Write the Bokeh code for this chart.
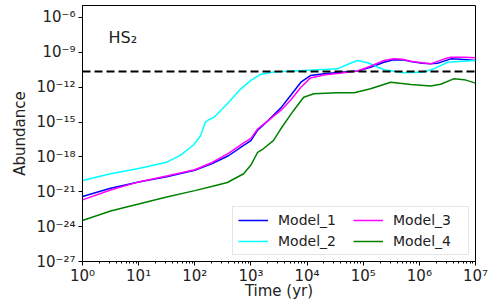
import numpy as np
from bokeh.plotting import figure
from bokeh.models import (FixedTicker, CustomJSTickFormatter, Span, Label, Legend, LegendItem)
from bokeh.embed import file_html
from bokeh.resources import INLINE

# ---- data (log10 of time in yr, log10 of abundance) ----
m1_logt = [0, 0.5, 1.0, 1.5, 2.0, 2.3, 2.6, 2.87, 3.0, 3.12, 3.3, 3.53, 3.71, 3.89, 4.06, 4.3, 4.65,
           4.9, 5.13, 5.37, 5.54, 5.7, 5.85, 6.05, 6.2, 6.32, 6.56, 6.8, 7.0]
m1_logx = [-21.4, -20.7, -20.15, -19.7, -19.15, -18.6, -17.9, -17.0, -16.6, -15.7, -14.9, -13.8, -12.7,
           -11.57, -11.0, -10.85, -10.7, -10.6, -10.28, -9.85, -9.64, -9.65, -9.79, -9.95, -9.99, -9.95,
           -9.56, -9.62, -9.7]

m2_logt = [0, 0.5, 1.0, 1.5, 1.75, 1.98, 2.10, 2.19, 2.25, 2.34, 2.58, 2.82, 3.0, 3.17, 3.4, 3.94, 4.54,
           4.72, 4.9, 5.08, 5.37, 5.72, 6.08, 6.26, 6.5, 7.0]
m2_logx = [-20.03, -19.45, -19.0, -18.45, -17.85, -16.95, -16.2, -15.0, -14.8, -14.6, -13.43, -12.14,
           -11.42, -10.9, -10.7, -10.56, -10.42, -10.05, -9.7, -9.9, -10.5, -10.76, -10.7, -10.42,
           -9.85, -9.7]

m3_logt = [0, 0.5, 1.0, 1.5, 2.0, 2.3, 2.6, 2.87, 3.0, 3.12, 3.3, 3.53, 3.71, 3.89, 4.06, 4.3, 4.65,
           4.9, 5.13, 5.37, 5.54, 5.7, 5.85, 6.05, 6.2, 6.45, 6.56, 6.8, 7.0]
m3_logx = [-21.7, -20.85, -20.15, -19.65, -19.1, -18.5, -17.7, -16.8, -16.4, -15.6, -14.9, -14.0, -13.1,
           -12.0, -11.2, -10.95, -10.75, -10.6, -10.2, -9.7, -9.56, -9.6, -9.76, -9.9, -9.99, -9.56,
           -9.42, -9.42, -9.47]

m4_logt = [0, 0.5, 1.0, 1.5, 2.0, 2.3, 2.58, 2.87, 3.0, 3.12, 3.22, 3.4, 3.53, 3.76, 3.94, 4.12, 4.54,
           4.84, 5.13, 5.49, 5.85, 6.2, 6.38, 6.61, 6.8, 7.0]
m4_logx = [-23.47, -22.65, -22.05, -21.45, -20.9, -20.55, -20.2, -19.45, -18.7, -17.6, -17.3, -16.6,
           -15.6, -14.0, -12.86, -12.57, -12.48, -12.48, -12.14, -11.57, -11.77, -11.9, -11.75, -11.28,
           -11.35, -11.65]

observed_abundance = 2.2e-11
species_label = "HS\u2082"
series_names = ["Model_1", "Model_2", "Model_3", "Model_4"]
series_colors = ["#0000ff", "#00ffff", "#ff00ff", "#008000"]
x_tick_exponents = [0, 1, 2, 3, 4, 5, 6, 7]
y_tick_exponents = [-27, -24, -21, -18, -15, -12, -9, -6]

FONT = "DejaVu Sans"

p = figure(width=497, height=305, x_axis_type="log", y_axis_type="log",
           x_range=(1, 1e7), y_range=(1e-27, 10 ** -4.97),
           output_backend="svg", toolbar_location=None,
           min_border_left=82, min_border_right=22, min_border_top=5, min_border_bottom=44)

p.xgrid.visible = False
p.ygrid.visible = False
p.outline_line_color = "black"
p.outline_line_width = 1
p.background_fill_color = "white"
p.border_fill_color = "white"

xt = [10.0 ** e for e in x_tick_exponents]
xminor = [m * 10.0 ** e for e in x_tick_exponents[:-1] for m in range(2, 10)]
p.xaxis.ticker = FixedTicker(ticks=xt, minor_ticks=xminor)
p.yaxis.ticker = FixedTicker(ticks=[10.0 ** e for e in y_tick_exponents])

fmt_code = """
const sup = {"0":"\u2070","1":"\u00b9","2":"\u00b2","3":"\u00b3","4":"\u2074","5":"\u2075",
             "6":"\u2076","7":"\u2077","8":"\u2078","9":"\u2079","-":"\u207b"};
const e = Math.round(Math.log10(tick));
return "10" + String(e).split("").map(c => sup[c]).join("");
"""
for ax in (p.xaxis[0], p.yaxis[0]):
    ax.formatter = CustomJSTickFormatter(code=fmt_code)
    ax.major_label_text_font = FONT
    ax.major_label_text_font_size = "15px"
    ax.major_label_text_color = "#222222"
    ax.axis_label_text_font = FONT
    ax.axis_label_text_font_size = "15px"
    ax.axis_label_text_font_style = "normal"
    ax.axis_label_text_color = "#222222"
    ax.axis_line_color = "black"
    ax.major_tick_line_color = "black"
    ax.major_tick_in = 0
    ax.major_tick_out = 4
    ax.minor_tick_in = 0
    ax.minor_tick_out = 2
    ax.major_label_standoff = 3

p.yaxis.minor_tick_line_color = None
p.xaxis.axis_label = "Time (yr)"
p.yaxis.axis_label = "Abundance"
p.xaxis.major_label_standoff = 1
p.xaxis.axis_label_standoff = -6
p.yaxis.axis_label_standoff = 4

renderers = []
for lt, lx, c in [(m1_logt, m1_logx, series_colors[0]), (m2_logt, m2_logx, series_colors[1]),
                  (m3_logt, m3_logx, series_colors[2]), (m4_logt, m4_logx, series_colors[3])]:
    r = p.line(10.0 ** np.array(lt), 10.0 ** np.array(lx), line_color=c, line_width=1.5)
    renderers.append(r)

p.add_layout(Span(location=observed_abundance, dimension="width", line_color="black",
                  line_width=2, line_dash="8 4"))

p.add_layout(Label(x=26, y=215, x_units="screen", y_units="screen", text=species_label,
                   text_font=FONT, text_font_size="16px", text_color="#222222"))

legend = Legend(items=[LegendItem(label=n, renderers=[r]) for n, r in zip(series_names, renderers)],
                location="bottom_right", nrows=2, orientation="vertical",
                label_text_font=FONT, label_text_font_size="14px", label_text_color="#222222",
                glyph_width=30, glyph_height=16, label_standoff=10, label_width=70,
                spacing=5, padding=5, margin=6,
                border_line_color="#cccccc", border_line_width=1,
                background_fill_color="white", background_fill_alpha=0.8)
p.add_layout(legend)

open("out.html", "w").write(file_html(p, INLINE))
